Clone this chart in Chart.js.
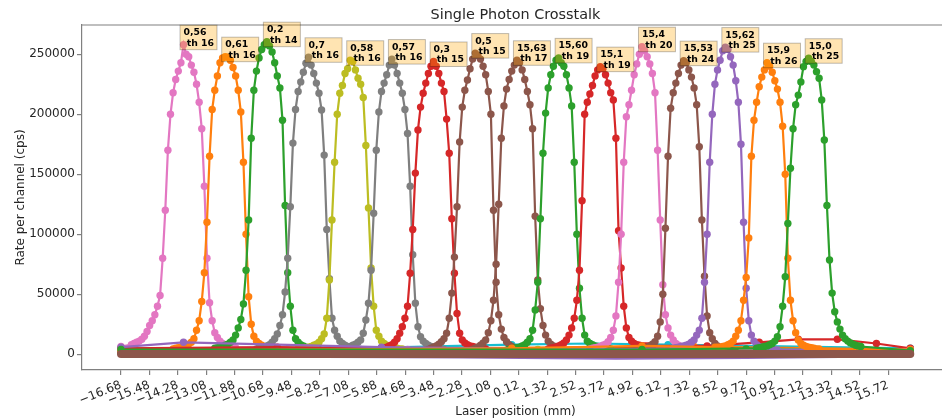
<!DOCTYPE html>
<html>
<head>
<meta charset="utf-8">
<title>Single Photon Crosstalk</title>
<script src="https://cdn.jsdelivr.net/npm/chart.js@4.4.1/dist/chart.umd.min.js"></script>
<style>
  html, body { margin: 0; padding: 0; background: #fff; overflow: hidden; }
  #wrap { width: 942px; height: 420px; overflow: hidden; }
</style>
</head>
<body>
<div id="wrap"><canvas id="crosstalk" width="960" height="420"></canvas></div>
<script>
'use strict';

// laser stage scan grid (mm)
const scanStart = -16.68;
const scanStep = 0.11;

const xTicks = [-16.68, -15.48, -14.28, -13.08, -11.88, -10.68, -9.48, -8.28, -7.08, -5.88,
  -4.68, -3.48, -2.28, -1.08, 0.12, 1.32, 2.52, 3.72, 4.92, 6.12, 7.32, 8.52, 9.72,
  10.92, 12.12, 13.32, 14.52, 15.72];
const yTicks = [0, 50000, 100000, 150000, 200000, 250000];

const peakLabels = ['0,56\n th 16', '0,61\n th 16', '0,2\n th 14', '0,7\n th 16',
  '0,58\n th 16', '0,57\n th 16', '0,3\n th 15', '0,5\n th 15', '15,63\n th 17',
  '15,60\n th 19', '15,1\n th 19', '15,4\n th 20', '15,53\n th 24', '15,62\n th 25',
  '15,9\n th 26', '15,0\n th 25'];

// scan index where each channel peaks
const peakIndex = [24, 40, 56, 72, 88, 104, 120, 136, 152, 168, 184, 200, 216, 232, 248, 264];

// rate in kcps, from 20 steps before to 20 steps after the peak
const peakKcps = [
  [8, 9, 10, 11, 12.5, 15, 19, 24, 28, 33, 40, 49, 80, 120, 170, 200, 218, 229, 236, 243,
    258, 250, 248, 241, 235, 225, 210, 188, 140, 80, 43, 28, 18, 14, 11, 9, 8, 7, 6.5, 6, 5.5],
  [4.5, 5, 5.5, 6, 6.5, 7.5, 8.5, 10, 13, 20, 28, 44, 68, 110, 165, 204, 220, 232, 243, 247,
    248, 247.5, 245, 239, 232, 220, 202, 160, 100, 48, 25, 15, 11, 9, 7.5, 6.5, 6, 5.5, 5, 5, 4.5],
  [5, 5.5, 6, 6.5, 7.5, 8.5, 10, 12, 16, 22, 29, 42, 70, 112, 180, 220, 236, 247, 254, 258,
    260.5, 257, 252, 243, 232, 222, 195, 124, 68, 40, 20, 13, 10, 8, 7, 6, 5.5, 5, 4.5, 4.5, 4],
  [4.5, 5, 5.5, 6, 7, 8, 10, 13, 17, 24, 33, 52, 80, 123, 176, 204, 219, 227, 235, 242.5,
    247.5, 241, 234, 226, 217.5, 203.6, 166, 104, 63, 30, 20, 15, 11, 9, 7.5, 6.5, 6, 5.5, 5, 4.5, 4],
  [4.5, 4.5, 5, 5.5, 6, 6.5, 7.5, 8.5, 10, 13, 17, 30, 62, 112, 160, 200, 217.5, 224, 234, 238,
    245, 244, 237, 230, 225, 214, 174, 122, 72, 40, 20, 15, 11, 9, 7.5, 6.5, 6, 5.5, 5, 4.5, 4.5],
  [4.5, 5, 5.5, 6, 6.5, 7.5, 8.5, 10, 12, 17.5, 28.6, 42.5, 70, 117.5, 170, 202, 219, 226, 233, 241,
    246, 241, 234, 226, 217.5, 204, 184, 140, 83, 42.5, 23, 14.7, 11, 9, 7.5, 6.5, 6, 5.5, 5, 4.5, 4],
  [5, 5.5, 6, 7, 8, 10, 13, 17.5, 23, 30, 40, 67.5, 104, 151, 187, 206, 217.5, 226, 234, 240,
    244, 240, 234, 226, 219, 196, 167.5, 113, 67.5, 34, 17.5, 12, 9.5, 8, 7, 6.5, 6, 5.5, 5, 5, 4.5],
  [3, 3.5, 4, 5, 6, 7, 8.5, 10.5, 13, 17.5, 30, 51, 81, 123, 177, 206, 220, 228.6, 238, 246,
    251, 249, 246, 240, 233, 219, 200, 120, 60, 33, 21, 14, 10.5, 8, 6.5, 5.5, 4.5, 4, 3.5, 3, 2.5],
  [2.5, 3, 3.5, 4, 5, 6, 7.5, 9.5, 12, 18, 28, 45, 75, 125, 180, 207, 221, 229, 236, 241,
    245, 243, 237, 229, 219, 208, 188, 115, 62, 38, 24, 16, 11, 8.5, 7, 5.5, 4.5, 4, 3.5, 3, 2.5],
  [3.5, 4, 4.5, 5, 5.5, 6, 7, 8, 10, 13, 20, 37, 60, 113, 167.5, 201, 222, 233, 240, 245,
    247, 243, 240, 233, 222, 207, 160, 100, 55, 30, 16, 11, 9, 8, 7, 6.5, 6, 5.5, 5, 5, 4.5],
  [4.5, 5, 5.5, 6, 7, 8, 9.5, 12, 16, 22, 30, 45, 70, 128, 200, 210, 217, 224, 232, 237,
    239.7, 238, 233, 226, 218, 212, 180, 103, 72, 40, 22, 14, 11, 9, 8, 7.5, 7, 7, 7, 7, 7],
  [4.5, 5, 5.5, 6, 6.5, 7.5, 8.5, 10.5, 14, 20, 32, 60, 100, 160, 198, 208, 220, 233, 242, 250,
    256.3, 253, 248, 242, 234, 218, 170, 112, 58, 33, 22, 16, 12, 9, 7.5, 6.5, 6, 5.5, 5, 4.5, 4],
  [2, 2.5, 3, 3.5, 4, 5, 6, 7, 8.5, 10.5, 15, 27, 50, 105, 165, 205, 218, 226, 234, 241,
    244.7, 243, 237, 231, 222, 208, 173, 112, 65, 32, 18, 13, 9, 7, 5.5, 4.5, 4, 3.5, 3, 2.5, 2],
  [5, 5.5, 6, 6.5, 7, 7.5, 8.5, 10, 12, 16, 20, 30, 60, 100, 160, 200, 225, 237, 245, 253,
    256, 254, 248, 241, 228, 210, 175, 110, 55, 28, 16, 11, 8, 6.5, 5.5, 5, 4.5, 4, 4, 3.5, 3.5],
  [6, 6, 6, 6.5, 7, 8, 9, 11, 15, 20, 28, 45, 64, 97, 165, 195, 210, 223, 231, 237,
    243, 240, 235, 228, 221, 210, 190, 150, 80, 45, 28, 18, 12, 9, 7.5, 6.5, 6, 5.5, 5, 4.5, 4.5],
  [5, 5.5, 6, 6.5, 7, 8, 9, 11, 14.7, 23, 40, 64.7, 109, 155, 188, 208, 216, 227, 239.7, 244,
    246.7, 244, 241, 235.5, 230, 212, 178.6, 124, 78.6, 51, 35.5, 27, 21, 16, 13, 11, 9.5, 8.5, 7.5, 7, 6.5],
];

// far tails of each channel: [scan index, kcps]
const tailKcps = [
  [[0, 6.5], [110, 4], [200, 3.5], [303, 3]],
  [[0, 4], [120, 5], [220, 6.5], [303, 4]],
  [[0, 4], [150, 4.5], [303, 3]],
  [[0, 4], [180, 3.5], [303, 3]],
  [[0, 4.5], [160, 4], [303, 3]],
  [[0, 4], [200, 3.5], [303, 3]],
  [[0, 5], [60, 6], [200, 5], [303, 4]],
  [[0, 3], [60, 2.5], [303, 1.5]],
  [[0, 1.5], [303, 1.5]],
  [[0, 3], [240, 4.5], [303, 4]],
  [[0, 4], [225, 7], [245, 10], [260, 12.5], [275, 12.5], [290, 9], [303, 5]],
  [[0, 3], [303, 4]],
  [[0, 1.5], [303, 1.5]],
  [[0, 6], [24, 10], [100, 6], [180, 4], [303, 3]],
  [[0, 3], [150, 5], [200, 7], [303, 4]],
  [[0, 4], [200, 4], [303, 3]],
];

// unlit channels sitting on the floor: [scan index, kcps]
const floorCyan = [[0, 5], [100, 5.5], [150, 8], [180, 9], [210, 8], [303, 5]];
const floorPurple = [[0, 0], [130, -1], [190, -2], [240, -1.5], [303, 0]];
const floorBrown = [[0, 0.3], [303, 0.3]];

const peakColors = ['#e377c2', '#ff7f0e', '#2ca02c', '#7f7f7f', '#bcbd22', '#7f7f7f', '#d62728',
  '#8c564b', '#8c564b', '#2ca02c', '#d62728', '#e377c2', '#8c564b', '#9467bd', '#ff7f0e', '#2ca02c'];

const spine = '#808080';

Chart.defaults.font.family = '"DejaVu Sans", sans-serif';
Chart.defaults.font.size = 12;
Chart.defaults.color = '#262626';

function scanX(k) {
  return scanStart + k * scanStep;
}

function toPoints(pairs) {
  return pairs.map(([k, r]) => ({ x: scanX(k), y: r * 1000 }));
}

const datasets = [];

peakKcps.forEach((rates, i) => {
  const first = peakIndex[i] - 20;
  const points = toPoints(tailKcps[i])
    .concat(rates.map((r, j) => ({ x: scanX(first + j), y: r * 1000 })))
    .sort((a, b) => a.x - b.x);
  datasets.push({
    data: points,
    borderColor: peakColors[i],
    backgroundColor: peakColors[i],
    borderWidth: 2.2,
    pointRadius: 3.7,
    pointBorderWidth: 0,
    order: 50 - i,
  });
});

datasets.push({
  data: toPoints(floorCyan),
  borderColor: '#17becf', backgroundColor: '#17becf',
  borderWidth: 2.2, pointRadius: 3.7, pointBorderWidth: 0, order: 100,
});
datasets.push({
  data: toPoints(floorPurple),
  borderColor: '#9467bd', backgroundColor: '#9467bd',
  borderWidth: 6, pointRadius: 0, borderCapStyle: 'round', order: 99,
});
datasets.push({
  data: toPoints(floorBrown),
  borderColor: '#8c564b', backgroundColor: '#8c564b',
  borderWidth: 8, pointRadius: 0, borderCapStyle: 'round', order: -10,
});

// title, axis labels, top spine and the peak notes
const chrome = {
  id: 'chrome',
  afterDatasetsDraw(chart) {
    const { ctx, chartArea: a, scales: { x, y } } = chart;
    ctx.save();
    ctx.strokeStyle = spine;
    ctx.lineWidth = 1.2;
    ctx.beginPath();
    ctx.moveTo(a.left, a.top);
    ctx.lineTo(a.right, a.top);
    ctx.stroke();

    ctx.font = 'bold 9.3px "DejaVu Sans"';
    ctx.textAlign = 'left';
    ctx.textBaseline = 'alphabetic';
    peakLabels.forEach((label, i) => {
      const rates = peakKcps[i];
      const top = Math.max(...rates);
      const k = peakIndex[i] - 20 + rates.indexOf(top);
      const px = x.getPixelForValue(scanX(k));
      const py = y.getPixelForValue(top * 1000);
      const lines = label.split('\n');
      const w = Math.max(...lines.map((s) => ctx.measureText(s).width));
      const base2 = py + 1;
      const base1 = base2 - 10.5;
      const bx = px - 3.5;
      const by = base1 - 10;
      const bw = w + 6.5;
      const bh = base2 + 4 - by;
      ctx.fillStyle = 'rgba(255, 165, 0, 0.3)';
      ctx.fillRect(bx, by, bw, bh);
      ctx.strokeStyle = 'rgba(0, 0, 0, 0.25)';
      ctx.lineWidth = 1;
      ctx.strokeRect(bx, by, bw, bh);
      ctx.fillStyle = '#000';
      ctx.fillText(lines[0], px, base1);
      ctx.fillText(lines[1], px, base2);
    });
    ctx.restore();
  },
  afterDraw(chart) {
    const { ctx, chartArea: a } = chart;
    const cx = (a.left + a.right) / 2;
    ctx.save();
    ctx.fillStyle = '#262626';
    ctx.textAlign = 'center';
    ctx.textBaseline = 'alphabetic';
    ctx.font = '14.4px "DejaVu Sans"';
    ctx.fillText('Single Photon Crosstalk', cx, 19);
    ctx.font = '12px "DejaVu Sans"';
    ctx.fillText('Laser position (mm)', cx, 415);
    ctx.translate(24, (a.top + a.bottom) / 2);
    ctx.rotate(-Math.PI / 2);
    ctx.fillText('Rate per channel (cps)', 0, 0);
    ctx.restore();
  },
};

new Chart(document.getElementById('crosstalk').getContext('2d'), {
  type: 'line',
  data: { datasets },
  options: {
    responsive: false,
    animation: false,
    events: [],
    layout: { padding: { top: 25, right: 11, left: 0, bottom: 0 } },
    elements: { line: { tension: 0 } },
    plugins: {
      legend: { display: false },
      tooltip: { enabled: false },
      title: { display: false },
    },
    scales: {
      x: {
        type: 'linear',
        min: -18.327,
        max: 18.285,
        afterBuildTicks: (scale) => { scale.ticks = xTicks.map((v) => ({ value: v })); },
        afterFit: (scale) => { scale.height = 50; },
        ticks: {
          autoSkip: false,
          minRotation: 22,
          maxRotation: 22,
          padding: 3,
          color: '#262626',
          callback: (v) => Number(v).toFixed(2).replace('-', '\u2212'),
        },
        grid: { drawOnChartArea: false, drawTicks: true, tickLength: 5, color: spine, lineWidth: 1.2 },
        border: { display: true, color: spine, width: 1.2 },
      },
      y: {
        type: 'linear',
        min: -13080,
        max: 274400,
        afterBuildTicks: (scale) => { scale.ticks = yTicks.map((v) => ({ value: v })); },
        afterFit: (scale) => { scale.width = 82; },
        ticks: {
          padding: 2,
          color: '#262626',
          callback: (v) => String(v),
        },
        grid: { drawOnChartArea: false, drawTicks: true, tickLength: 5, color: spine, lineWidth: 1.2 },
        border: { display: true, color: spine, width: 1.2 },
      },
    },
  },
  plugins: [chrome],
});
</script>
</body>
</html>
